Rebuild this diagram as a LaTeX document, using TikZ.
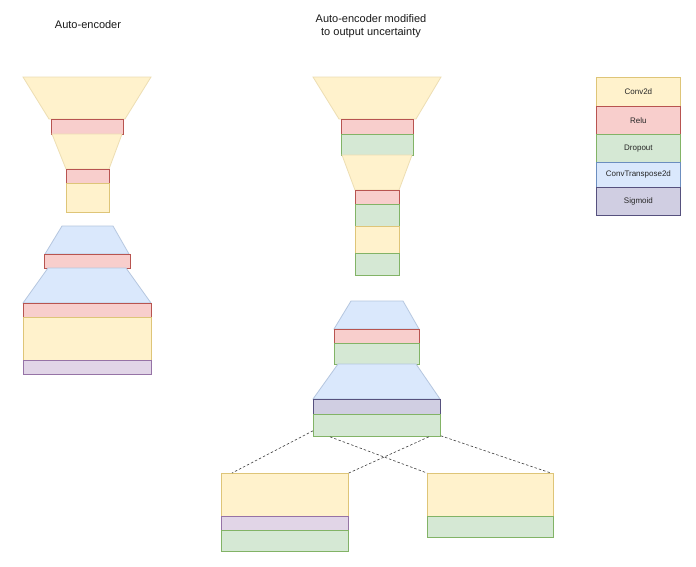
\documentclass[tikz,border=0pt]{standalone}
\usepackage{fontspec}
\setmainfont{Liberation Sans}
\usetikzlibrary{calc}
\definecolor{yfill}{HTML}{FFF2CC}\definecolor{ydraw}{HTML}{D6B656}
\definecolor{rfill}{HTML}{F8CECC}\definecolor{rdraw}{HTML}{B85450}
\definecolor{gfill}{HTML}{D5E8D4}\definecolor{gdraw}{HTML}{82B366}
\definecolor{bfill}{HTML}{DAE8FC}\definecolor{bdraw}{HTML}{6C8EBF}
\definecolor{pfill}{HTML}{E1D5E7}\definecolor{pdraw}{HTML}{9673A6}
\definecolor{sfill}{HTML}{D0CEE2}\definecolor{sdraw}{HTML}{56517E}
\tikzset{
  lay/.style={rectangle, inner sep=0pt, line width=0.8pt},
  yel/.style={lay, fill=yfill, draw=ydraw!80!white},
  red/.style={lay, fill=rfill, draw=rdraw},
  grn/.style={lay, fill=gfill, draw=gdraw},
  blu/.style={lay, fill=bfill, draw=bdraw},
  pur/.style={lay, fill=pfill, draw=pdraw},
  sig/.style={lay, fill=sfill, draw=sdraw},
  ytrap/.style={fill=yfill, draw=ydraw!45!white, line width=0.8pt},
  btrap/.style={fill=bfill, draw=bdraw!50!white, line width=0.8pt},
  link/.style={dashed, dash pattern=on 2.5pt off 2pt, draw=black!75, line width=0.6pt},
  legtxt/.style={font=\fontsize{8}{9}\selectfont, text=black!85},
  title/.style={font=\fontsize{11}{12.5}\selectfont, align=center, text=black!90}
}
\newcommand\layer[6]{%
  \pgfmathsetmacro\lw{#5-#3}\pgfmathsetmacro\lh{#6-#4}%
  \node[#2, minimum width=\lw pt, minimum height=\lh pt, anchor=north west] (#1) at (#3,#4) {};}
\newcommand\legbox[7]{%
  \pgfmathsetmacro\lw{#5-#3}\pgfmathsetmacro\lh{#6-#4}%
  \node[#2, legtxt, minimum width=\lw pt, minimum height=\lh pt, anchor=north west] (#1) at (#3,#4) {#7};}
\begin{document}
\begin{tikzpicture}[x=1pt, y=-1pt]
\useasboundingbox (0,0) rectangle (696,566);
\fill[white] (0,0) rectangle (696,566);

% titles
\node[title] (t1) at (88,25) {Auto-encoder};
\node[title] (t2) at (371,26) {Auto-encoder modified\\to output uncertainty};

% ---------- left auto-encoder ----------
\draw[ytrap] (23,77) -- (151,77) -- (125,119) -- (49,119) -- cycle;
\layer{la}{red}{51}{119}{123}{134}
\draw[ytrap] (52,134) -- (122,134) -- (109,169) -- (66,169) -- cycle;
\layer{lb}{red}{66}{169}{109}{183}
\layer{lc}{yel}{66}{183}{109}{212}

\draw[btrap] (62,226) -- (113,226) -- (129,254) -- (45,254) -- cycle;
\layer{ld}{red}{44}{254}{130}{268}
\draw[btrap] (48,268) -- (126,268) -- (151,303) -- (23,303) -- cycle;
\layer{le}{red}{23}{303}{151}{317}
\layer{lf}{yel}{23}{317}{151}{360}
\layer{lg}{pur}{23}{360}{151}{374}

% ---------- middle auto-encoder ----------
\draw[ytrap] (313,77) -- (441,77) -- (416,119) -- (339,119) -- cycle;
\layer{ma}{red}{341}{119}{413}{134}
\layer{mb}{grn}{341}{134}{413}{155}
\draw[ytrap] (342,155) -- (412,155) -- (399,190) -- (355,190) -- cycle;
\layer{mc}{red}{355}{190}{399}{204}
\layer{md}{grn}{355}{204}{399}{226}
\layer{me}{yel}{355}{226}{399}{253}
\layer{mf}{grn}{355}{253}{399}{275}

\draw[btrap] (351,301) -- (403,301) -- (419,329) -- (334,329) -- cycle;
\layer{mg}{red}{334}{329}{419}{343}
\layer{mh}{grn}{334}{343}{419}{364}
\draw[btrap] (338,364) -- (416,364) -- (440,399) -- (313,399) -- cycle;
\layer{mi}{sig}{313}{399}{440}{414}
\layer{mj}{grn}{313}{414}{440}{436}

% ---------- output heads ----------
\layer{ha}{yel}{221}{473}{348}{516}
\layer{hb}{pur}{221}{516}{348}{530}
\layer{hc}{grn}{221}{530}{348}{551}
\layer{hd}{yel}{427}{473}{553}{516}
\layer{he}{grn}{427}{516}{553}{537}

% dashed connectors
\draw[link] ($(mj.south west)+(0,-6)$) -- ($(ha.north west)+(11,0)$);
\draw[link] ($(mj.south west)+(17,0)$) -- (hd.north west);
\draw[link] ($(mj.south east)+(-12,0)$) -- (ha.north east);
\draw[link] ($(mj.south east)+(0,-1)$) -- ($(hd.north east)+(-3,0)$);

% ---------- legend ----------
\legbox{k1}{yel}{596}{77}{680}{106}{Conv2d}
\legbox{k2}{red}{596}{106}{680}{134}{Relu}
\legbox{k3}{grn}{596}{134}{680}{162}{Dropout}
\legbox{k4}{blu}{596}{162}{680}{187}{ConvTranspose2d}
\legbox{k5}{sig}{596}{187}{680}{215}{Sigmoid}
\end{tikzpicture}
\end{document}
